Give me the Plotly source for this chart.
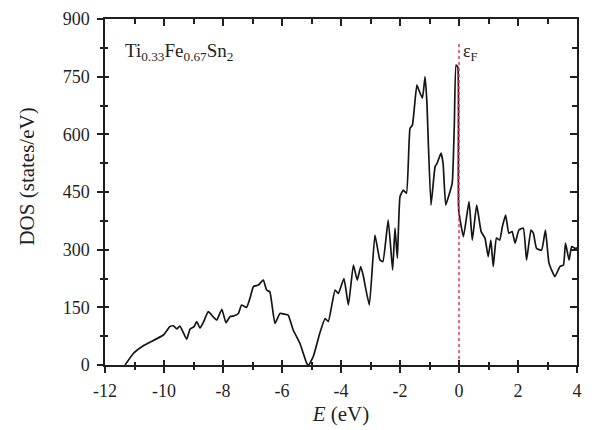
import plotly.graph_objects as go

energy = [-11.32, -11.04, -10.70, -10.02, -9.80, -9.68, -9.57, -9.46, -9.23, -9.12,
          -8.98, -8.89, -8.78, -8.67, -8.50, -8.33, -8.21, -8.04, -7.90, -7.76,
          -7.62, -7.48, -7.37, -7.20, -7.08, -6.97, -6.80, -6.68, -6.63, -6.52,
          -6.41, -6.24, -6.07, -5.90, -5.79, -5.62, -5.39, -5.16, -5.10, -4.94,
          -4.71, -4.54, -4.43, -4.20, -4.09, -3.90, -3.75, -3.58, -3.45, -3.33,
          -3.25, -3.04, -2.85, -2.68, -2.58, -2.40, -2.25, -2.17, -2.09, -2.00,
          -1.89, -1.78, -1.66, -1.58, -1.43, -1.36, -1.24, -1.15, -1.09, -0.95,
          -0.81, -0.74, -0.61, -0.54, -0.45, -0.34, -0.23, -0.16, -0.10, -0.04,
          -0.01, 0.15, 0.34, 0.45, 0.60, 0.75, 0.88, 0.99, 1.08, 1.16,
          1.27, 1.38, 1.47, 1.58, 1.69, 1.80, 1.90, 2.03, 2.18, 2.29,
          2.44, 2.52, 2.63, 2.80, 2.93, 3.05, 3.25, 3.42, 3.54, 3.61,
          3.73, 3.82, 3.95, 4.00]
dos = [0, 30, 50, 78, 100, 102, 94, 101, 67, 93,
       100, 113, 96, 110, 139, 125, 117, 145, 110, 126,
       128, 134, 156, 150, 175, 204, 208, 218, 221, 195,
       190, 108, 134, 132, 130, 91, 56, 4, 0, 22,
       85, 121, 113, 195, 186, 225, 156, 260, 221, 256,
       234, 156, 338, 273, 269, 377, 247, 356, 278, 438,
       455, 447, 616, 624, 728, 715, 694, 750, 685, 416,
       516, 525, 551, 525, 416, 442, 473, 620, 780, 775,
       403, 334, 425, 325, 416, 347, 330, 282, 325, 256,
       330, 325, 360, 390, 343, 347, 317, 351, 356, 273,
       351, 343, 303, 299, 351, 265, 230, 256, 260, 317,
       273, 308, 303, 305]

x_ticks = [-12, -10, -8, -6, -4, -2, 0, 2, 4]
y_ticks = [0, 150, 300, 450, 600, 750, 900]
fermi_energy = 0
fermi_top = 840

FONT = "Liberation Serif"
ink = "#1f1f1f"

fig = go.Figure()
fig.add_trace(go.Scatter(x=energy, y=dos, mode="lines",
                         line=dict(color="#151515", width=1.7, shape="spline", smoothing=0.4),
                         showlegend=False, hoverinfo="skip"))
fig.add_trace(go.Scatter(x=[fermi_energy, fermi_energy], y=[0, fermi_top],
                         mode="lines", xaxis="x2", yaxis="y2",
                         line=dict(color="#e8385a", width=1.5, dash="dot"),
                         showlegend=False, hoverinfo="skip"))
# invisible carrier so the top/right frame axes get drawn
fig.add_trace(go.Scatter(x=energy, y=dos, mode="lines", xaxis="x3", yaxis="y3",
                         line=dict(color="rgba(0,0,0,0)", width=0),
                         showlegend=False, hoverinfo="skip"))

base_x = dict(range=[x_ticks[0], x_ticks[-1]], showgrid=False, zeroline=False,
              showline=True, linecolor=ink, linewidth=1.5, tickcolor=ink, tickwidth=1.5)
base_y = dict(range=[y_ticks[0], y_ticks[-1]], showgrid=False, zeroline=False,
              showline=True, linecolor=ink, linewidth=1.5, tickcolor=ink, tickwidth=1.5)
lin_x = dict(tickmode="linear", tick0=x_ticks[0], dtick=x_ticks[1] - x_ticks[0])
lin_y = dict(tickmode="linear", tick0=y_ticks[0], dtick=y_ticks[1] - y_ticks[0])

fig.update_layout(
    width=592, height=430,
    margin=dict(l=105, r=15, t=19, b=65, autoexpand=False),
    paper_bgcolor="white", plot_bgcolor="white",
    font=dict(family=FONT, size=18, color=ink),
    # primary axes: inside ticks on bottom / left
    xaxis=dict(**base_x, **lin_x, showticklabels=False, ticks="inside", ticklen=5,
               minor=dict(dtick=1, ticks="inside", ticklen=3, tickcolor=ink)),
    yaxis=dict(**base_y, **lin_y, showticklabels=False, ticks="inside", ticklen=4,
               minor=dict(dtick=75, ticks="inside", ticklen=3, tickcolor=ink)),
    # overlay axes: outside ticks + labels on bottom / left
    xaxis2=dict(**base_x, overlaying="x", side="bottom", anchor="y2", automargin=False,
                tickmode="array", tickvals=x_ticks, ticktext=[str(v) for v in x_ticks],
                ticks="outside", ticklen=6, ticklabelstandoff=3,
                minor=dict(dtick=1, ticks="outside", ticklen=3, tickcolor=ink),
                tickfont=dict(family=FONT, size=18, color=ink),
                title=dict(text="<i>E</i> (eV)", standoff=6,
                           font=dict(family=FONT, size=21, color=ink))),
    yaxis2=dict(**base_y, overlaying="y", side="left", anchor="x2", automargin=False,
                tickmode="array", tickvals=y_ticks, ticktext=[str(v) for v in y_ticks],
                ticks="outside", ticklen=6, ticklabelstandoff=4,
                minor=dict(dtick=75, ticks="outside", ticklen=3, tickcolor=ink),
                tickfont=dict(family=FONT, size=18, color=ink)),
    # frame axes: inside ticks on top / right
    xaxis3=dict(**base_x, **lin_x, overlaying="x", side="top", anchor="y3",
                showticklabels=False, ticks="inside", ticklen=7,
                minor=dict(dtick=1, ticks="inside", ticklen=5, tickcolor=ink)),
    yaxis3=dict(**base_y, **lin_y, overlaying="y", side="right", anchor="x3",
                showticklabels=False, ticks="inside", ticklen=7,
                minor=dict(dtick=75, ticks="inside", ticklen=5, tickcolor=ink)),
    annotations=[
        dict(x=-0.165, y=0.545, xref="paper", yref="paper", xanchor="center", yanchor="middle",
             text="DOS (states/eV)", textangle=-90, showarrow=False,
             font=dict(family=FONT, size=21, color=ink)),
        dict(x=-11.38, y=815, xref="x", yref="y", xanchor="left", yanchor="middle",
             text="Ti<sub>0.33</sub>Fe<sub>0.67</sub>Sn<sub>2</sub>",
             showarrow=False, font=dict(family=FONT, size=19, color=ink)),
        dict(x=0.06, y=812, xref="x", yref="y", xanchor="left", yanchor="middle",
             text="ε<sub>F</sub>", showarrow=False,
             font=dict(family=FONT, size=18, color=ink)),
    ],
)

fig.write_html("out.html")
